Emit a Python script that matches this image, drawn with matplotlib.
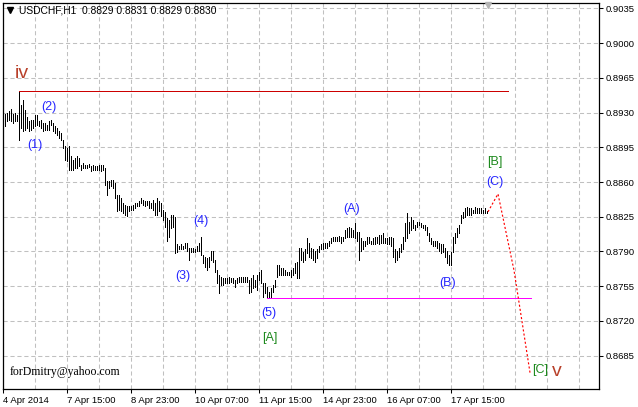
import matplotlib
matplotlib.use("Agg")
import matplotlib.pyplot as plt
import matplotlib.transforms as mtransforms
import numpy as np

plt.rcParams["lines.scale_dashes"] = False

# ---------------- data (USDCHF H1, highs / lows per bar) ----------------
highs = [
    0.8928, 0.8930, 0.8932, 0.8934, 0.8928, 0.8930, 0.8927, 0.8952, 0.8938, 0.8943,
    0.8933, 0.8925, 0.8921, 0.8922, 0.8922, 0.8927, 0.8927, 0.8921, 0.8922, 0.8919,
    0.8919, 0.8917, 0.8921, 0.8922, 0.8919, 0.8916, 0.8914, 0.8911, 0.8909, 0.8902,
    0.8896, 0.8894, 0.8896, 0.8886, 0.8882, 0.8884, 0.8886, 0.8884, 0.8877, 0.8879,
    0.8877, 0.8877, 0.8878, 0.8876, 0.8877, 0.8876, 0.8876, 0.8877, 0.8877, 0.8877,
    0.8874, 0.8861, 0.8861, 0.8862, 0.8862, 0.8859, 0.8847, 0.8847, 0.8844, 0.8839,
    0.8837, 0.8836, 0.8836, 0.8836, 0.8837, 0.8839, 0.8839, 0.8841, 0.8844, 0.8842,
    0.8841, 0.8841, 0.8841, 0.8839, 0.8842, 0.8839, 0.8844, 0.8841, 0.8839, 0.8832,
    0.8830, 0.8824, 0.8822, 0.8827, 0.8827, 0.8825, 0.8798, 0.8796, 0.8798, 0.8796,
    0.8799, 0.8799, 0.8794, 0.8794, 0.8794, 0.8793, 0.8796, 0.8799, 0.8805, 0.8786,
    0.8784, 0.8783, 0.8784, 0.8791, 0.8791, 0.8781, 0.8771, 0.8766, 0.8764, 0.8763,
    0.8763, 0.8763, 0.8764, 0.8763, 0.8763, 0.8761, 0.8763, 0.8764, 0.8764, 0.8764,
    0.8764, 0.8764, 0.8761, 0.8763, 0.8766, 0.8761, 0.8766, 0.8769, 0.8771, 0.8758,
    0.8758, 0.8754, 0.8749, 0.8753, 0.8756, 0.8761, 0.8776, 0.8776, 0.8773, 0.8773,
    0.8771, 0.8769, 0.8769, 0.8771, 0.8773, 0.8778, 0.8779, 0.8794, 0.8794, 0.8789,
    0.8793, 0.8804, 0.8799, 0.8794, 0.8793, 0.8791, 0.8793, 0.8796, 0.8798, 0.8799,
    0.8799, 0.8799, 0.8801, 0.8804, 0.8805, 0.8805, 0.8805, 0.8806, 0.8805, 0.8805,
    0.8812, 0.8814, 0.8815, 0.8814, 0.8812, 0.8819, 0.8810, 0.8810, 0.8804, 0.8801,
    0.8801, 0.8805, 0.8805, 0.8801, 0.8804, 0.8805, 0.8805, 0.8807, 0.8807, 0.8809,
    0.8804, 0.8804, 0.8805, 0.8805, 0.8804, 0.8793, 0.8791, 0.8794, 0.8798, 0.8805,
    0.8819, 0.8829, 0.8820, 0.8825, 0.8822, 0.8817, 0.8820, 0.8820, 0.8819, 0.8817,
    0.8817, 0.8815, 0.8809, 0.8804, 0.8801, 0.8801, 0.8801, 0.8799, 0.8798, 0.8798,
    0.8794, 0.8791, 0.8786, 0.8789, 0.8805, 0.8809, 0.8814, 0.8817, 0.8827, 0.8830,
    0.8834, 0.8835, 0.8834, 0.8834, 0.8832, 0.8835, 0.8834, 0.8834, 0.8834, 0.8832,
    0.8834, 0.8831,
]
lows = [
    0.8916, 0.8921, 0.8922, 0.8921, 0.8919, 0.8921, 0.8921, 0.8902, 0.8914, 0.8911,
    0.8912, 0.8914, 0.8911, 0.8912, 0.8914, 0.8916, 0.8917, 0.8916, 0.8914, 0.8911,
    0.8912, 0.8912, 0.8912, 0.8917, 0.8911, 0.8909, 0.8907, 0.8904, 0.8902, 0.8894,
    0.8882, 0.8881, 0.8872, 0.8872, 0.8872, 0.8874, 0.8874, 0.8876, 0.8872, 0.8874,
    0.8874, 0.8874, 0.8875, 0.8871, 0.8872, 0.8872, 0.8872, 0.8872, 0.8871, 0.8872,
    0.8857, 0.8847, 0.8854, 0.8856, 0.8854, 0.8844, 0.8831, 0.8832, 0.8831, 0.8829,
    0.8827, 0.8826, 0.8831, 0.8832, 0.8832, 0.8834, 0.8836, 0.8836, 0.8839, 0.8837,
    0.8836, 0.8837, 0.8834, 0.8834, 0.8832, 0.8827, 0.8827, 0.8831, 0.8826, 0.8822,
    0.8815, 0.8801, 0.8805, 0.8814, 0.8815, 0.8788, 0.8789, 0.8793, 0.8793, 0.8793,
    0.8794, 0.8791, 0.8781, 0.8789, 0.8789, 0.8789, 0.8791, 0.8791, 0.8786, 0.8778,
    0.8774, 0.8771, 0.8774, 0.8781, 0.8779, 0.8769, 0.8758, 0.8748, 0.8756, 0.8756,
    0.8758, 0.8758, 0.8758, 0.8759, 0.8758, 0.8754, 0.8758, 0.8759, 0.8759, 0.8759,
    0.8759, 0.8759, 0.8748, 0.8749, 0.8753, 0.8754, 0.8751, 0.8761, 0.8758, 0.8744,
    0.8748, 0.8743, 0.8743, 0.8743, 0.8749, 0.8754, 0.8764, 0.8766, 0.8766, 0.8766,
    0.8766, 0.8766, 0.8766, 0.8764, 0.8766, 0.8768, 0.8763, 0.8763, 0.8781, 0.8779,
    0.8781, 0.8788, 0.8784, 0.8783, 0.8781, 0.8779, 0.8783, 0.8789, 0.8793, 0.8793,
    0.8794, 0.8794, 0.8796, 0.8799, 0.8801, 0.8801, 0.8801, 0.8801, 0.8799, 0.8801,
    0.8804, 0.8805, 0.8805, 0.8805, 0.8805, 0.8804, 0.8801, 0.8781, 0.8791, 0.8793,
    0.8796, 0.8798, 0.8799, 0.8798, 0.8798, 0.8798, 0.8799, 0.8798, 0.8799, 0.8799,
    0.8799, 0.8798, 0.8798, 0.8796, 0.8784, 0.8779, 0.8781, 0.8784, 0.8789, 0.8793,
    0.8801, 0.8804, 0.8809, 0.8812, 0.8814, 0.8812, 0.8815, 0.8817, 0.8815, 0.8814,
    0.8812, 0.8807, 0.8801, 0.8798, 0.8796, 0.8796, 0.8794, 0.8791, 0.8788, 0.8789,
    0.8784, 0.8778, 0.8776, 0.8776, 0.8789, 0.8799, 0.8805, 0.8809, 0.8819, 0.8824,
    0.8825, 0.8827, 0.8827, 0.8827, 0.8829, 0.8829, 0.8829, 0.8829, 0.8829, 0.8829,
    0.8829, 0.8829,
]

# x-axis labels (every 32 hourly bars)
x_tick_labels = ["4 Apr 2014", "7 Apr 15:00", "8 Apr 23:00", "10 Apr 07:00",
                 "11 Apr 15:00", "14 Apr 23:00", "16 Apr 07:00", "17 Apr 15:00"]
y_tick_values = [0.9035, 0.9000, 0.8965, 0.8930, 0.8895, 0.8860, 0.8825,
                 0.8790, 0.8755, 0.8720, 0.8685]

# forecast path (bar index, price)
forecast_x = [241.5, 246.5, 254.5, 262.5]
forecast_y = [0.8830, 0.8848, 0.8771, 0.8668]

# wave labels
wave_text = ["(2)", "(1)", "(4)", "(3)", "(5)", "[A]", "(A)", "(B)", "[B]", "(C)", "[C]"]
wave_x = [21.75, 14.75, 97.75, 89.0, 132.0, 132.25, 173.25, 221.25, 245.0, 245.0, 267.5]
wave_y = [0.89355, 0.8897, 0.88205, 0.8765, 0.87285, 0.87025, 0.8833, 0.8758,
          0.88805, 0.88605, 0.86705]
wave_kind = ["minor", "minor", "minor", "minor", "minor", "inter", "minor", "minor",
             "inter", "minor", "inter"]
roman_text = ["iv", "v"]
roman_x = [8.25, 276.0]
roman_y = [0.8965, 0.8665]

title = "USDCHF,H1  0.8829 0.8831 0.8829 0.8830"
watermark = "forDmitry@yahoo.com"

# ---------------- figure ----------------
W, H = 638, 407
fig = plt.figure(figsize=(W / 100, H / 100), dpi=100)
fig.patch.set_facecolor("white")
ax = fig.add_axes([2.7 / W, (H - 389) / H, (599 - 2.7) / W, (389 - 3) / H])

x = np.arange(len(highs))
ax.vlines(x, lows, highs, colors="black", linewidth=0.6, antialiased=False, zorder=3)

ax.set_xlim(-1.15, 297.0)
ax.set_ylim(0.86515, 0.90403)

# grid
grid_kw = dict(color="#c0c0c0", linewidth=0.75, linestyle=(0, (3, 2)), zorder=1)
x_tick_pos = np.arange(len(x_tick_labels)) * 32 - 1
for gx in np.arange(-1, 297, 16):
    ax.axvline(gx, **grid_kw)
for gy in y_tick_values:
    ax.axhline(gy, **grid_kw)

# ticks
ax.yaxis.tick_right()
ax.set_yticks(y_tick_values)
ax.set_yticklabels([f"{v:.4f}" for v in y_tick_values])
ax.set_xticks(x_tick_pos)
ax.set_xticklabels(x_tick_labels, ha="left")
ax.tick_params(axis="both", direction="out", length=3, width=0.75, color="black",
               labelsize=6.8, labelcolor="black")
ax.tick_params(axis="y", pad=2)
ax.tick_params(axis="x", pad=2)
for lab in ax.get_xticklabels() + ax.get_yticklabels():
    lab.set_fontfamily("Liberation Sans")
for s in ax.spines.values():
    s.set_linewidth(0.9)
    s.set_color("black")

# horizontal level lines
i_hi = int(np.argmax(highs))
i_lo = int(np.argmin(lows))
ax.hlines(max(highs), i_hi, 251.5, colors="#cc0000", linewidth=0.7,
          antialiased=False, zorder=4)
ax.hlines(min(lows), i_lo, 263.0, colors="#ff00ff", linewidth=0.7,
          antialiased=False, zorder=4)

# forecast dotted line
ax.plot(forecast_x, forecast_y, color="#ff0000", linewidth=0.85,
        linestyle=(0, (1.5, 1.5)), zorder=4)

# wave labels
col = {"minor": "#2626ff", "inter": "#1e8a1e"}
for t, wx, wy, k in zip(wave_text, wave_x, wave_y, wave_kind):
    ax.text(wx, wy, t, color=col[k], fontsize=9, family="Liberation Sans",
            ha="center", va="center", zorder=5)
for t, rx, ry in zip(roman_text, roman_x, roman_y):
    ax.text(rx, ry, t, color="#b8402a", fontsize=14, family="Liberation Sans",
            ha="center", va="baseline", zorder=5)

# title and watermark
ax.text(0.027, 0.993, title, transform=ax.transAxes, fontsize=7.4,
        family="Liberation Sans", ha="left", va="top", color="black")
ax.plot([0.0117], [0.9806], marker="v", markersize=4, color="black",
        transform=ax.transAxes, clip_on=False)
ax.text(0.0117, 0.036, watermark, transform=ax.transAxes, fontsize=8.5,
        family="Liberation Serif", ha="left", va="baseline", color="black")

# chart shift marker at top
trans = mtransforms.blended_transform_factory(ax.transData, ax.transAxes)
ax.plot([len(highs) - 0.5], [0.995], marker="v", markersize=5, color="#b4b4b4",
        transform=trans, clip_on=False, zorder=6)

fig.savefig("out.png", dpi=100, facecolor="white")
